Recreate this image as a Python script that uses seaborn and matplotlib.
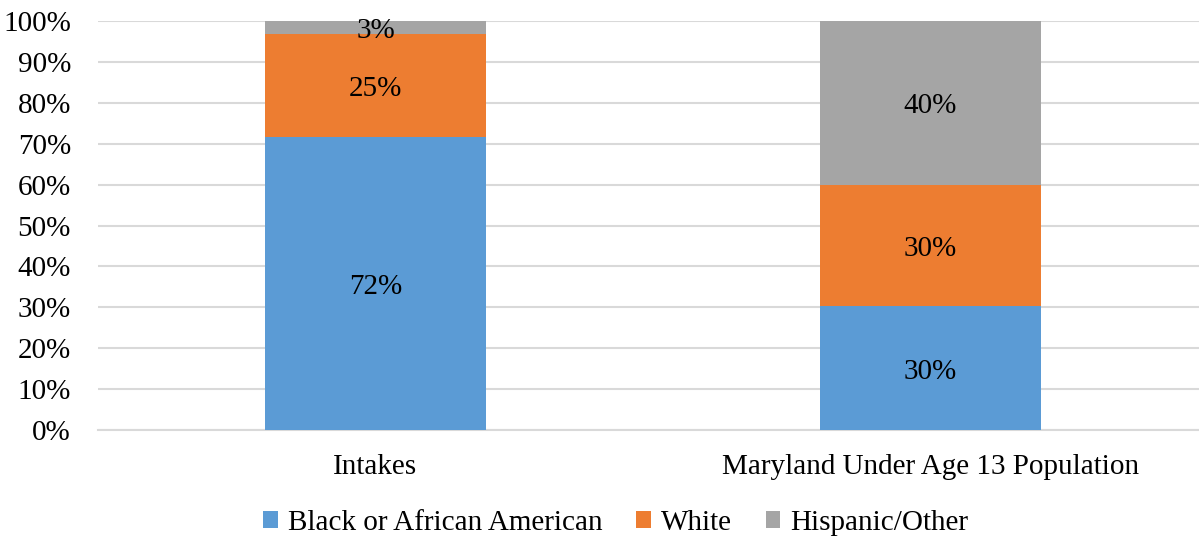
import matplotlib
matplotlib.use("Agg")
import matplotlib.pyplot as plt
import seaborn as sns
import numpy as np
import pandas as pd
from matplotlib.patches import Patch

categories = ["Intakes", "Maryland Under Age 13 Population"]
series_names = ["Black or African American", "White", "Hispanic/Other"]
black = [71.7, 30.2]
white = [25.1, 29.8]
other = [3.2, 40.0]
yticks = [0, 10, 20, 30, 40, 50, 60, 70, 80, 90, 100]
colors = ["#5B9BD5", "#ED7D31", "#A5A5A5"]

sns.set_theme(style="white")
plt.rcParams["font.family"] = ["Liberation Serif", "DejaVu Serif"]
plt.rcParams["text.color"] = "black"

FS = 21
fig = plt.figure(figsize=(11.99, 5.37), dpi=100)
ax = fig.add_axes([98 / 1199, 1 - 430 / 537, 1110 / 1199, (430 - 21) / 537])

values = [black, white, other]
bottom = np.zeros(len(categories))
for name, vals, col in zip(series_names, values, colors):
    df = pd.DataFrame({"cat": categories, "val": vals})
    sns.barplot(data=df, x="cat", y="val", color=col, width=0.398, bottom=bottom,
                ax=ax, saturation=1, linewidth=0, zorder=3)
    for i, v in enumerate(vals):
        ax.text(i, bottom[i] + v / 2 - 0.8, f"{v:.0f}%", ha="center", va="center",
                fontsize=FS, color="black", zorder=4)
    bottom = bottom + np.array(vals)

ax.set_xlim(-0.5, 1.5)
ax.set_ylim(0, 100)
ax.set_yticks(yticks)
ax.set_yticklabels([f"{t}%" for t in yticks], fontsize=FS)
ax.tick_params(axis="y", length=0, pad=19.5)
ax.tick_params(axis="x", length=0, pad=17, labelsize=FS)
ax.set_xlabel("")
ax.set_ylabel("")
ax.grid(axis="y", color="#D9D9D9", linewidth=1.5, zorder=0)
ax.grid(axis="x", visible=False)
for s in ["top", "right", "left"]:
    ax.spines[s].set_visible(False)
ax.spines["bottom"].set_color("#D9D9D9")
ax.spines["bottom"].set_linewidth(1.5)
for lbl in ax.get_xticklabels() + ax.get_yticklabels():
    lbl.set_color("black")

handles = [Patch(facecolor=c, edgecolor="none") for c in colors]
leg = fig.legend(handles, series_names, loc="center", bbox_to_anchor=(616 / 1199, 1 - 523 / 537),
                 ncol=3, frameon=False, fontsize=FS, handlelength=0.5, handleheight=0.5,
                 handletextpad=0.35, columnspacing=1.15)
for t in leg.get_texts():
    t.set_color("black")

fig.savefig("out.png", dpi=100)
